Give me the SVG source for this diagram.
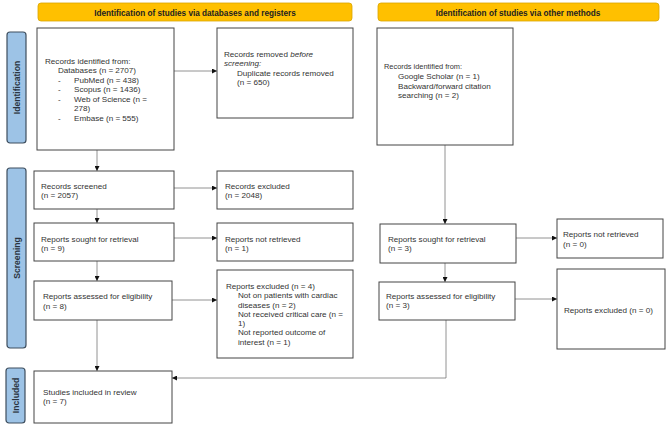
<svg xmlns="http://www.w3.org/2000/svg" width="669" height="428" viewBox="0 0 669 428">
<style>
text{font-family:"Liberation Sans",Arial,sans-serif;font-size:8.1px;fill:#333}
.sm{font-size:7.4px}
.box{fill:#fff;stroke:#444;stroke-width:1}
.hdr{fill:#FFC000;stroke:#D9A400;stroke-width:0.8}
.hdr-t{font-weight:bold;font-size:8.2px;fill:#222;text-anchor:middle}
.side{fill:#9DC3E6;stroke:#3E4E5E;stroke-width:1.2}
.side-t{font-weight:bold;font-size:8.6px;fill:#2B3440;text-anchor:middle}
.con{fill:none;stroke:#777;stroke-width:0.8}
</style>
<defs>
<marker id="ah" viewBox="0 0 10 10" refX="10" refY="5" markerWidth="5" markerHeight="5" orient="auto" markerUnits="userSpaceOnUse">
<path d="M0,0 L10,5 L0,10 z" fill="#111"/>
</marker>
</defs>
<rect width="669" height="428" fill="#fff"/>

<g id="header-db"><rect class="hdr" x="38" y="3" width="314" height="18" rx="3"/><text class="hdr-t" x="195" y="15.8">Identification of studies via databases and registers</text></g>
<g id="header-other"><rect class="hdr" x="378" y="3" width="281" height="18" rx="3"/><text class="hdr-t" x="518" y="15.8">Identification of studies via other methods</text></g>

<g id="side-identification"><rect class="side" x="7" y="32" width="19" height="111" rx="3"/><text class="side-t" transform="translate(19.6,87.5) rotate(-90)">Identification</text></g>
<g id="side-screening"><rect class="side" x="7" y="168" width="19" height="180" rx="3"/><text class="side-t" transform="translate(19.6,258) rotate(-90)">Screening</text></g>
<g id="side-included"><rect class="side" x="6" y="368" width="19" height="55" rx="3"/><text class="side-t" transform="translate(18.6,395.5) rotate(-90)">Included</text></g>

<g id="connectors">
<line class="con" x1="174" y1="71" x2="217" y2="71" marker-end="url(#ah)"/>
<line class="con" x1="97" y1="150" x2="97" y2="171" marker-end="url(#ah)"/>
<line class="con" x1="174" y1="188" x2="217" y2="188" marker-end="url(#ah)"/>
<line class="con" x1="97" y1="209" x2="97" y2="223" marker-end="url(#ah)"/>
<line class="con" x1="174" y1="238" x2="217" y2="238" marker-end="url(#ah)"/>
<line class="con" x1="97" y1="261" x2="97" y2="281" marker-end="url(#ah)"/>
<line class="con" x1="172" y1="300" x2="217" y2="300" marker-end="url(#ah)"/>
<line class="con" x1="97" y1="320" x2="97" y2="371" marker-end="url(#ah)"/>
<line class="con" x1="445" y1="145" x2="445" y2="224" marker-end="url(#ah)"/>
<line class="con" x1="516" y1="238" x2="557" y2="238" marker-end="url(#ah)"/>
<line class="con" x1="445" y1="263" x2="445" y2="282" marker-end="url(#ah)"/>
<line class="con" x1="515" y1="299" x2="557" y2="299" marker-end="url(#ah)"/>
<polyline class="con" points="446,320 446,378 172,378" marker-end="url(#ah)"/>
</g>

<g id="records-identified"><rect class="box" x="37" y="28" width="137" height="122"/>
<text x="45" y="63.5">Records identified from:</text>
<text x="58" y="73">Databases (n = 2707)</text>
<text x="58" y="82.5">-</text><text x="74" y="82.5">PubMed (n = 438)</text>
<text x="58" y="92">-</text><text x="74" y="92">Scopus (n = 1436)</text>
<text x="58" y="101.5">-</text><text x="74" y="101.5">Web of Science (n =</text>
<text x="74" y="111">278)</text>
<text x="58" y="120.5">-</text><text x="74" y="120.5">Embase (n = 555)</text>
</g>
<g id="records-removed"><rect class="box" x="217" y="28" width="136" height="90"/>
<text x="224" y="57">Records removed <tspan font-style="italic">before</tspan></text>
<text x="224" y="66" font-style="italic">screening:</text>
<text x="237" y="75.5">Duplicate records removed</text>
<text x="237" y="85">(n = 650)</text>
</g>
<g id="records-other"><rect class="box" x="377" y="28" width="136" height="117"/>
<text class="sm" x="384" y="69">Records identified from:</text>
<text x="398" y="79">Google Scholar (n = 1)</text>
<text x="398" y="88.7">Backward/forward citation</text>
<text x="398" y="98.4">searching (n = 2)</text>
</g>
<g id="records-screened"><rect class="box" x="34" y="171" width="140" height="38"/>
<text x="41" y="188.5">Records screened</text><text x="41" y="198">(n = 2057)</text></g>
<g id="records-excluded"><rect class="box" x="217" y="171" width="136" height="38"/>
<text x="225" y="188.5">Records excluded</text><text x="225" y="198">(n = 2048)</text></g>
<g id="sought"><rect class="box" x="34" y="223" width="140" height="38"/>
<text x="41" y="241.5">Reports sought for retrieval</text><text x="41" y="251">(n = 9)</text></g>
<g id="not-retrieved"><rect class="box" x="217" y="223" width="136" height="38"/>
<text x="225" y="241.5">Reports not retrieved</text><text x="225" y="251">(n = 1)</text></g>
<g id="assessed"><rect class="box" x="34" y="281" width="138" height="39"/>
<text x="43" y="299">Reports assessed for eligibility</text><text x="43" y="308.5">(n = 8)</text></g>
<g id="reports-excluded"><rect class="box" x="217" y="270" width="136" height="88"/>
<text x="226" y="288.5">Reports excluded (n = 4)</text>
<text x="238" y="298">Not on patients with cardiac</text>
<text x="238" y="307.5">diseases (n = 2)</text>
<text x="238" y="316.5">Not received critical care (n =</text>
<text x="238" y="326">1)</text>
<text x="238" y="335">Not reported outcome of</text>
<text x="238" y="344.5">interest (n = 1)</text>
</g>
<g id="included"><rect class="box" x="34" y="371" width="138" height="52"/>
<text x="43" y="394.5">Studies included in review</text><text x="43" y="404">(n = 7)</text></g>
<g id="sought-other"><rect class="box" x="380" y="224" width="136" height="39"/>
<text x="388" y="241.5">Reports sought for retrieval</text><text x="388" y="251">(n = 3)</text></g>
<g id="not-retrieved-other"><rect class="box" x="557" y="219" width="106" height="39"/>
<text x="563" y="236.5">Reports not retrieved</text><text x="563" y="246.5">(n = 0)</text></g>
<g id="assessed-other"><rect class="box" x="379" y="282" width="136" height="38"/>
<text x="386" y="298.5">Reports assessed for eligibility</text><text x="386" y="308">(n = 3)</text></g>
<g id="excluded-other"><rect class="box" x="557" y="269" width="108" height="80"/>
<text x="564" y="312.5">Reports excluded (n = 0)</text></g>
</svg>
